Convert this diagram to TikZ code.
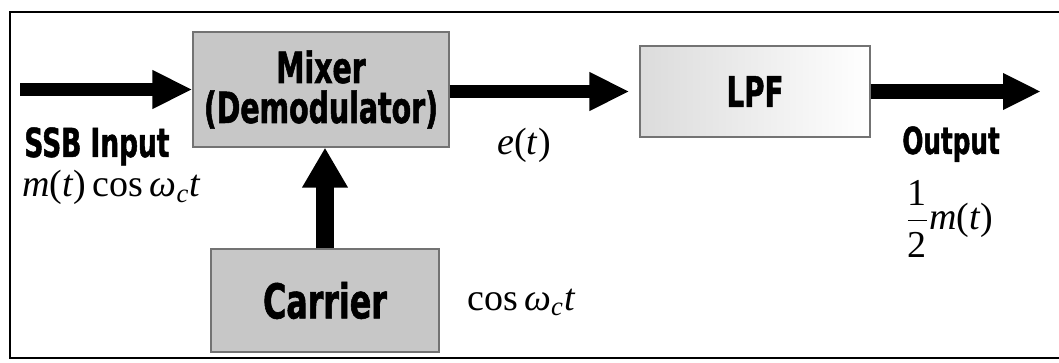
\documentclass[tikz,border=0pt]{standalone}
\usepackage{fontspec}
\setmainfont{Liberation Serif}
\newfontfamily\impfont{DejaVu Sans}[FakeStretch=0.66,BoldFeatures={FakeStretch=0.66,FakeBold=1.2}]
\usetikzlibrary{arrows.meta}
\begin{document}
\begin{tikzpicture}[x=0.5pt,y=-0.5pt,
  blk/.style={draw=black!55,line width=0.6pt,fill=black!22,inner sep=0pt,align=center},
  mth/.style={font=\fontsize{19}{22}\selectfont,inner sep=0pt,anchor=base west},
  bigarrow/.style={line width=6.5pt,-{Triangle[length=20pt,width=18pt]}},
  outarrow/.style={line width=7.5pt,-{Triangle[length=19pt,width=17pt]}},
  uparrow/.style={line width=9pt,-{Triangle[length=20pt,width=21.5pt]}}]
\clip (0,0) rectangle (1059,363);
\fill[white] (0,0) rectangle (1059,363);
\draw[line width=1.2pt] (1075,12) -- (10,12) -- (10,358) -- (1075,358);

\node[blk,minimum width=128pt,minimum height=57.5pt,
      font=\impfont\bfseries\fontsize{21.5}{20}\selectfont] (mix) at (321,89.5) {Mixer\\(Demodulator)};
\node[blk,minimum width=114pt,minimum height=51.5pt,
      font=\impfont\bfseries\fontsize{24}{24}\selectfont] (car) at (325,300.5) {Carrier};
\node[blk,fill=none,left color=black!14,right color=white,minimum width=115pt,minimum height=45.5pt,
      font=\impfont\bfseries\fontsize{21}{20}\selectfont] (lpf) at (755,91.5) {LPF};

\coordinate (in) at (20,89.5);
\coordinate (out) at (1041,91.5);

\node[font=\impfont\bfseries\fontsize{20}{20}\selectfont,inner sep=0pt,anchor=base west] (ssb) at (24,157) {SSB Input};
\node[mth] (sig) at (22,197) {\textit{m}(\textit{t})\,cos\,\textit{ω}\textsubscript{\textit{c}}\textit{t}};
\node[mth] (et) at (497,155) {\textit{e}(\textit{t})};
\node[mth] (cw) at (467,310) {cos\,\textit{ω}\textsubscript{\textit{c}}\textit{t}};
\node[font=\impfont\bfseries\fontsize{18.7}{20}\selectfont,inner sep=0pt,anchor=base west] (outl) at (902,154) {Output};
\node[mth] (half) at (905,229) {$\displaystyle\frac{\mbox{1}\rule[-3pt]{0pt}{3pt}}{\mbox{2}\rule{0pt}{17pt}}$\textit{m}(\textit{t})};

\draw[bigarrow] (in) -- (mix.west);
\draw[bigarrow,shorten >=5pt] (mix.east |- lpf.west) -- (lpf.west);
\draw[outarrow] (lpf.east) -- (out);
\draw[uparrow] (car.north) -- (car.north |- mix.south);
\end{tikzpicture}
\end{document}
